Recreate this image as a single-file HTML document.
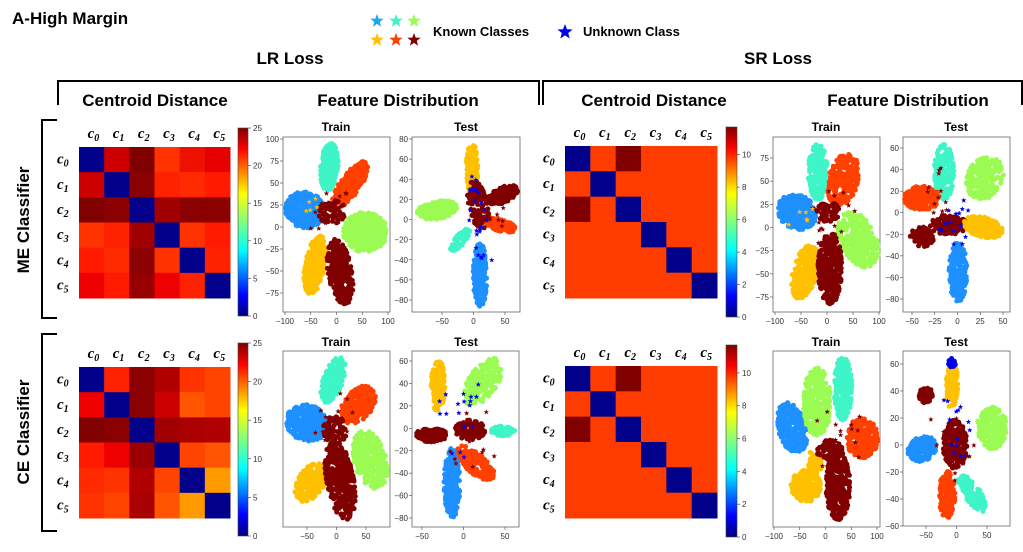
<!DOCTYPE html>
<html><head><meta charset="utf-8">
<style>
html,body{margin:0;padding:0;background:#fff;}
body{width:1023px;height:552px;position:relative;overflow:hidden;font-family:"Liberation Sans",sans-serif;}
svg{position:absolute;left:0;top:0;}
</style></head>
<body>
<svg id="s" width="1023" height="552" xmlns="http://www.w3.org/2000/svg">
<defs>
<linearGradient id="jet" x1="0" y1="1" x2="0" y2="0">
<stop offset="0" stop-color="#00007f"/><stop offset="0.11" stop-color="#0000ff"/>
<stop offset="0.35" stop-color="#00ffff"/><stop offset="0.5" stop-color="#7fff7f"/>
<stop offset="0.65" stop-color="#ffff00"/><stop offset="0.89" stop-color="#ff0000"/>
<stop offset="1" stop-color="#7f0000"/></linearGradient>
</defs>
<g font-family="Liberation Sans, sans-serif" font-weight="bold" fill="#000">
<text x="12" y="24" font-size="17">A-High Margin</text>
<text x="433" y="36" font-size="13">Known Classes</text>
<text x="583" y="36" font-size="13">Unknown Class</text>
<text x="290" y="64" font-size="17" text-anchor="middle">LR Loss</text>
<text x="778" y="64" font-size="17" text-anchor="middle">SR Loss</text>
<text x="155" y="106" font-size="17" text-anchor="middle">Centroid Distance</text>
<text x="398" y="106" font-size="17" text-anchor="middle">Feature Distribution</text>
<text x="654" y="106" font-size="17" text-anchor="middle">Centroid Distance</text>
<text x="908" y="106" font-size="17" text-anchor="middle">Feature Distribution</text>
<text x="336" y="131" font-size="12" text-anchor="middle">Train</text>
<text x="466" y="131" font-size="12" text-anchor="middle">Test</text>
<text x="826" y="131" font-size="12" text-anchor="middle">Train</text>
<text x="956" y="131" font-size="12" text-anchor="middle">Test</text>
<text x="336" y="346" font-size="12" text-anchor="middle">Train</text>
<text x="466" y="346" font-size="12" text-anchor="middle">Test</text>
<text x="826" y="346" font-size="12" text-anchor="middle">Train</text>
<text x="956" y="346" font-size="12" text-anchor="middle">Test</text>
<text transform="translate(29,220) rotate(-90)" font-size="17" text-anchor="middle">ME Classifier</text>
<text transform="translate(29,432) rotate(-90)" font-size="17" text-anchor="middle">CE Classifier</text>
</g>
<g stroke="#000" stroke-width="2" fill="none">
<polyline points="58,105 58,81 539,81 539,105"/>
<polyline points="543,105 543,81 1022,81 1022,105"/>
<polyline points="57,120 42,120 42,318 57,318"/>
<polyline points="57,334 42,334 42,531 57,531"/>
</g>
<g id="dyn"></g>
</svg>
<script>
var NS="http://www.w3.org/2000/svg",g=document.getElementById('dyn');
function el(t,a,txt){var e=document.createElementNS(NS,t);for(var k in a)e.setAttribute(k,a[k]);if(txt!==undefined)e.textContent=txt;g.appendChild(e);return e;}
var seed=7;function r(){seed=(seed*16807)%2147483647;return (seed-1)/2147483646;}
function star(cx,cy,R,c){var p=[];for(var i=0;i<10;i++){var a=-Math.PI/2+i*Math.PI/5,rr=i%2?R*0.42:R;p.push((cx+rr*Math.cos(a)).toFixed(1)+','+(cy+rr*Math.sin(a)).toFixed(1));}el('polygon',{points:p.join(' '),fill:c});}
star(377,21,7,'#1ea7f5');star(396,21,7,'#3ff5c8');star(414,21,7,'#9bfb52');
star(377,40,7,'#ffc000');star(396,40,7,'#ff4000');star(414,40,7,'#800000');
star(565,32,8,'#0000ee');
function heat(x,y,w,h,M){var cw=w/6,ch=h/6;for(var i=0;i<6;i++)for(var j=0;j<6;j++)el('rect',{x:x+j*cw,y:y+i*ch,width:cw+0.5,height:ch+0.5,fill:M[i][j]});
for(var k=0;k<6;k++){var t=el('text',{x:x+k*cw+cw/2-4,y:y-9,'font-family':'Liberation Serif,serif','font-style':'italic','font-weight':'bold','font-size':15});t.innerHTML='c<tspan font-size="10" dy="3">'+k+'</tspan>';
var t2=el('text',{x:x-22,y:y+k*ch+ch/2+4,'font-family':'Liberation Serif,serif','font-style':'italic','font-weight':'bold','font-size':15});t2.innerHTML='c<tspan font-size="10" dy="3">'+k+'</tspan>';}}
var N='#00008b';
var A=[[N,'#cc0000','#800000','#ff3300','#ee1100','#e60000'],['#cc0000',N,'#8b0000','#ff2200','#ff2a00','#ff1a00'],['#800000','#8b0000',N,'#a00000','#8b0000','#8b0000'],['#ff3300','#ff2200','#a00000',N,'#ff3300','#ff1a00'],['#ff1a00','#ff2a00','#8b0000','#ff3300',N,'#ff2200'],['#ee0000','#ff1a00','#960000','#ee0000','#ff2200',N]];
var B=[[N,'#ff2200','#8b0000','#b00000','#ff3300','#ff4400'],['#ee0000',N,'#8b0000','#cc0000','#ff5500','#ff4400'],['#800000','#8b0000',N,'#a00000','#aa0000','#b00000'],['#ff1a00','#ee0000','#9a0000',N,'#ff4400','#ff5500'],['#ff2a00','#ff3300','#b00000','#ff4400',N,'#ff9900'],['#ff3300','#ff4400','#aa0000','#ff5500','#ff9900',N]];
var O='#ff3c00',D='#800000';
var C=[];for(var i=0;i<6;i++){C.push([]);for(var j=0;j<6;j++)C[i].push(i==j?N:O);}C[0][2]=D;C[2][0]=D;
heat(79,147,151,151,A);heat(79,367,151,151,B);heat(565,146,152,152,C);heat(565,366,152,152,C);
function cbar(x,y,w,h,labs){el('rect',{x:x,y:y,width:w,height:h,fill:'url(#jet)',stroke:'#444','stroke-width':0.6});
labs.forEach(function(l){var yy=y+h-l[1]*h;el('line',{x1:x+w,y1:yy,x2:x+w+3,y2:yy,stroke:'#333','stroke-width':0.6});el('text',{x:x+w+5,y:yy+3,'font-size':8,fill:'#333'},l[0]);});}
var L1=[[0,0],[5,.2],[10,.4],[15,.6],[20,.8],[25,1]];
var L2=[[0,0],[2,2/11.7],[4,4/11.7],[6,6/11.7],[8,8/11.7],[10,10/11.7]];
cbar(238,128,10,188,L1);cbar(238,343,10,193,L1);cbar(726,127,11,190,L2);cbar(726,345,11,192,L2);
function blob(cx,cy,rx,ry,ang,col,n){n=Math.round(n*1.3);var a=ang*Math.PI/180,c=Math.cos(a),s=Math.sin(a);for(var i=0;i<n;i++){var t=r()*6.283,rr=Math.sqrt(r());var px=rr*rx*Math.cos(t),py=rr*ry*Math.sin(t);el('circle',{cx:(cx+px*c-py*s).toFixed(1),cy:(cy+px*s+py*c).toFixed(1),r:2.5,fill:col});}}
function stars(cx,cy,rx,ry,col,n){for(var i=0;i<n;i++){star(cx+(r()*2-1)*rx,cy+(r()*2-1)*ry,2.8,col);}}
var CY='#3ff5c8',BL='#1e90ff',GR='#9bfb52',OR='#ffc000',RD='#ff4000',DR='#800000',UB='#0000ee';
function axes(x0,y0,x1,y1,yl,yv0,yv1,xl,xv0,xv1){el('rect',{x:x0,y:y0,width:x1-x0,height:y1-y0,fill:'none',stroke:'#666','stroke-width':0.8});
yl.forEach(function(v){var yy=yv0+(v-yl[0])/(yl[yl.length-1]-yl[0])*(yv1-yv0);el('line',{x1:x0-3,y1:yy,x2:x0,y2:yy,stroke:'#444','stroke-width':0.6});el('text',{x:x0-4,y:yy+3,'font-size':8,fill:'#333','text-anchor':'end'},String(v).replace('-','\u2212'));});
xl.forEach(function(v){var xx=xv0+(v-xl[0])/(xl[xl.length-1]-xl[0])*(xv1-xv0);el('line',{x1:xx,y1:y1,x2:xx,y2:y1+3,stroke:'#444','stroke-width':0.6});el('text',{x:xx,y:y1+12,'font-size':8,fill:'#333','text-anchor':'middle'},String(v).replace('-','\u2212'));});}
axes(283,137,390,312,[100,75,50,25,0,-25,-50,-75],139,293,[-100,-50,0,50,100],285,388);
blob(329,167,9,24,5,CY,180);blob(350,185,10,28,35,RD,200);blob(305,210,20,18,20,BL,260);blob(365,232,22,20,0,GR,280);blob(315,265,10,30,10,OR,200);blob(340,272,12,33,-10,DR,250);blob(332,212,14,12,0,DR,60);stars(330,210,20,20,DR,15);stars(305,205,12,8,OR,5);
axes(412,137,520,312,[80,60,40,20,0,-20,-40,-60,-80],139,300,[-50,0,50],442,505);
blob(472,168,6,25,0,OR,120);blob(437,210,20,9,-10,GR,170);blob(503,195,16,8,-25,DR,130);blob(500,225,17,6,15,RD,110);blob(460,240,5,14,40,CY,60);blob(480,275,7,32,0,BL,170);blob(478,205,10,25,-10,DR,80);stars(478,200,10,35,UB,18);stars(484,250,8,20,UB,6);stars(490,215,20,12,DR,12);
axes(773,137,880,312,[75,50,25,0,-25,-50,-75],158,297,[-100,-50,0,50,100],775,879);
blob(818,172,10,28,0,CY,180);blob(843,180,15,27,15,RD,200);blob(797,212,20,17,30,BL,250);blob(858,240,18,30,-25,GR,260);blob(805,272,12,28,15,OR,200);blob(830,268,12,36,0,DR,260);blob(828,212,12,10,0,DR,50);stars(830,220,25,30,DR,18);stars(800,215,15,10,OR,6);
axes(903,137,1010,312,[60,40,20,0,-20,-40,-60,-80],148,299,[-50,-25,0,25,50],912,1003);
blob(944,172,10,28,0,CY,150);blob(985,178,18,22,30,GR,170);blob(922,198,18,12,0,RD,150);blob(922,237,12,10,0,DR,90);blob(948,225,20,10,0,DR,110);blob(983,227,20,10,15,OR,130);blob(958,272,9,30,0,BL,160);stars(955,225,15,25,UB,16);stars(940,190,15,25,DR,12);
axes(283,351,390,527,[],0,0,[-50,0,50],307,366);
blob(333,380,10,24,20,CY,160);blob(358,405,14,22,40,RD,200);blob(307,423,21,18,20,BL,260);blob(370,460,16,30,-15,GR,240);blob(311,482,13,22,35,OR,180);blob(340,480,14,40,-10,DR,280);blob(335,430,12,14,0,DR,60);stars(335,415,20,30,DR,15);
axes(412,351,519,527,[60,40,20,0,-20,-40,-60,-80],361,518,[-50,0,50],422,505);
blob(438,386,7,26,0,OR,120);blob(483,382,14,27,35,GR,160);blob(431,435,16,7,0,DR,110);blob(475,463,10,24,-50,RD,130);blob(503,431,12,5,0,CY,60);blob(452,483,8,35,0,BL,170);blob(470,430,15,10,0,DR,90);stars(462,420,25,40,UB,18);stars(470,440,25,30,DR,14);
axes(773,351,880,527,[],0,0,[-100,-50,0,50,100],774,877);
blob(792,428,14,26,-15,BL,220);blob(817,402,14,34,0,GR,240);blob(843,388,9,32,0,CY,170);blob(862,438,16,20,0,RD,200);blob(806,486,15,16,0,OR,180);blob(815,462,8,12,0,OR,50);blob(838,485,12,35,0,DR,260);blob(830,450,14,10,0,DR,60);stars(835,440,25,35,DR,18);
axes(903,351,1010,526,[60,40,20,0,-20,-40,-60],364,526,[-50,0,50],926,987);
blob(952,385,6,25,0,OR,110);blob(952,362,4,5,0,UB,15);blob(926,395,7,8,0,DR,40);blob(992,428,15,21,0,GR,160);blob(922,449,15,12,-30,BL,120);blob(955,445,12,25,0,DR,150);blob(947,495,8,24,0,RD,120);blob(972,493,8,22,-35,CY,100);stars(955,430,15,30,UB,14);stars(950,450,25,35,DR,14);
</script>
</body></html>
